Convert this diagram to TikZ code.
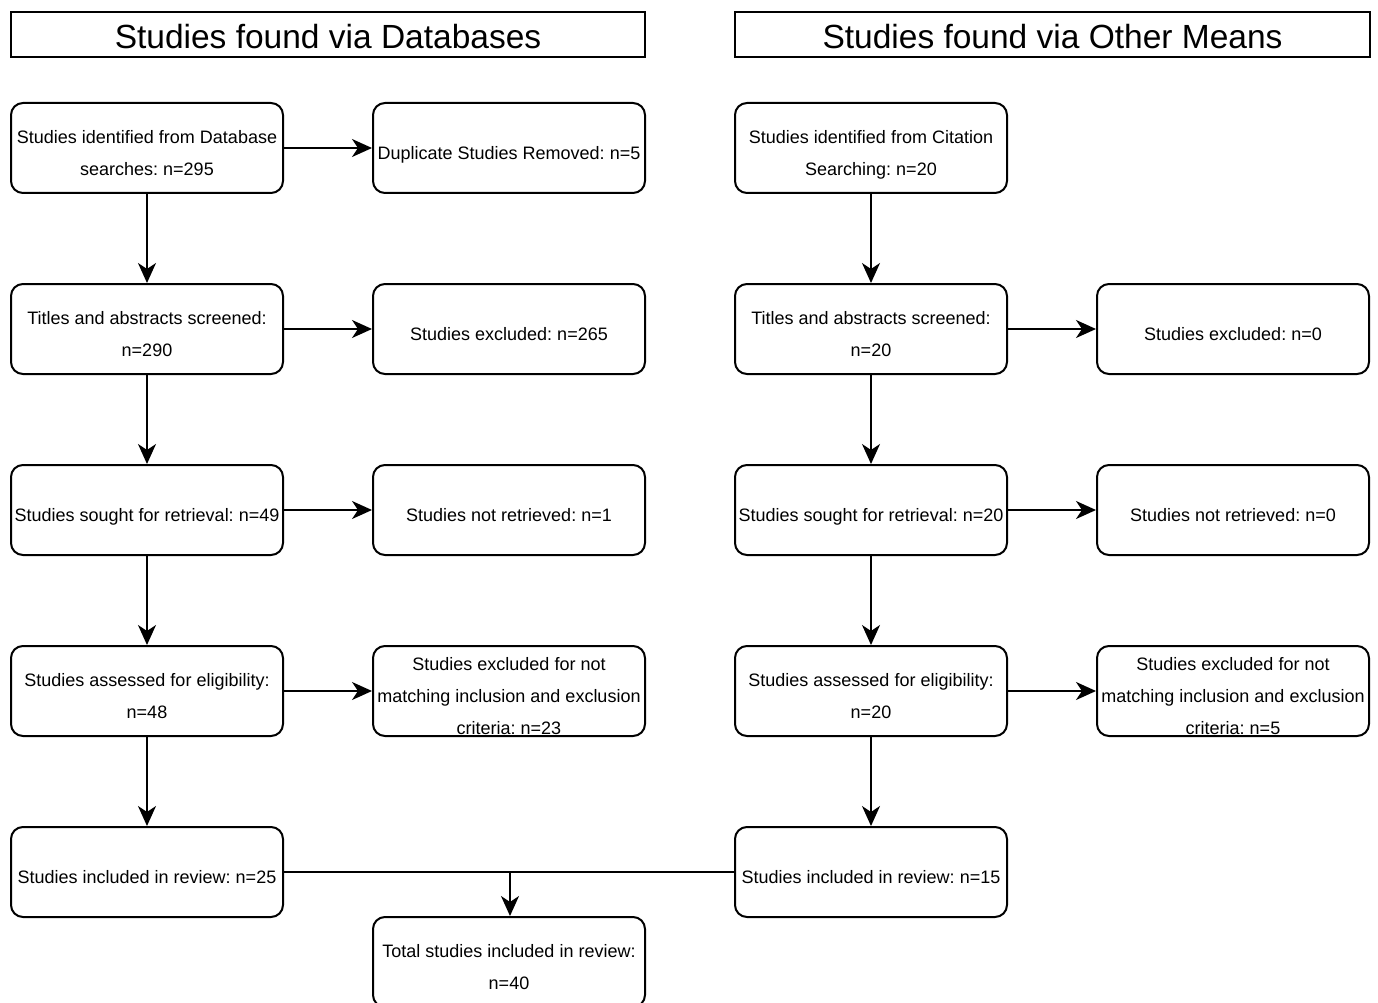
\documentclass[tikz,border=0pt]{standalone}
\usepackage{fontspec}
\setmainfont{Liberation Sans}
\usetikzlibrary{arrows.meta}
\frenchspacing
\newcommand\ls{\rule[-4pt]{0pt}{18pt}}
\tikzset{
  box/.style={draw, line width=2pt, rounded corners=12pt, minimum width=272pt, minimum height=90pt, inner sep=0pt},
  hbox/.style={draw, line width=1.8pt, inner sep=0pt},
  txt/.style={font=\fontsize{18}{32}\selectfont, align=center, inner sep=0pt},
  htxt/.style={font=\fontsize{33.5}{40}\selectfont, inner sep=0pt, text height=24pt, text depth=0pt},
  arr/.style={line width=1.8pt, -{Stealth[length=20pt,width=18pt,inset=6pt]}},
  ln/.style={line width=1.8pt}
}
\begin{document}
\begin{tikzpicture}[x=1pt,y=-1pt]
\useasboundingbox (0,0) rectangle (1378,1003);
\clip (0,0) rectangle (1378,1003);
% headers
\node[hbox, minimum width=634pt, minimum height=45pt] (h1) at (328,34.5) {};
\node[htxt] (h1t) at (328,36.5) {Studies found via Databases};
\node[hbox, minimum width=635pt, minimum height=45pt] (h2) at (1052.5,34.5) {};
\node[htxt] (h2t) at (1052.5,36.5) {Studies found via Other Means};
% column 1
\node[box] (a1) at (147,148) {};
\node[txt] (a1t) at (147,154.5) {\ls Studies identified from Database\\\ls searches: n=295};
\node[box] (a2) at (147,329) {};
\node[txt] (a2t) at (147,335.5) {\ls Titles and abstracts screened:\\\ls n=290};
\node[box] (a3) at (147,510) {};
\node[txt] (a3t) at (147,516.5) {\ls Studies sought for retrieval: n=49};
\node[box] (a4) at (147,691) {};
\node[txt] (a4t) at (147,697.5) {\ls Studies assessed for eligibility:\\\ls n=48};
\node[box] (a5) at (147,872) {};
\node[txt] (a5t) at (147,878.5) {\ls Studies included in review: n=25};
% column 2
\node[box] (b1) at (509,148) {};
\node[txt] (b1t) at (509,154.5) {\ls Duplicate Studies Removed: n=5};
\node[box] (b2) at (509,329) {};
\node[txt] (b2t) at (509,335.5) {\ls Studies excluded: n=265};
\node[box] (b3) at (509,510) {};
\node[txt] (b3t) at (509,516.5) {\ls Studies not retrieved: n=1};
\node[box] (b4) at (509,691) {};
\node[txt] (b4t) at (509,697.5) {\ls Studies excluded for not\\\ls matching inclusion and exclusion\\\ls criteria: n=23};
\node[box] (tot) at (509,962) {};
\node[txt] (tott) at (509,968.5) {\ls Total studies included in review:\\\ls n=40};
% column 3
\node[box] (c1) at (871,148) {};
\node[txt] (c1t) at (871,154.5) {\ls Studies identified from Citation\\\ls Searching: n=20};
\node[box] (c2) at (871,329) {};
\node[txt] (c2t) at (871,335.5) {\ls Titles and abstracts screened:\\\ls n=20};
\node[box] (c3) at (871,510) {};
\node[txt] (c3t) at (871,516.5) {\ls Studies sought for retrieval: n=20};
\node[box] (c4) at (871,691) {};
\node[txt] (c4t) at (871,697.5) {\ls Studies assessed for eligibility:\\\ls n=20};
\node[box] (c5) at (871,872) {};
\node[txt] (c5t) at (871,878.5) {\ls Studies included in review: n=15};
% column 4
\node[box] (d2) at (1233,329) {};
\node[txt] (d2t) at (1233,335.5) {\ls Studies excluded: n=0};
\node[box] (d3) at (1233,510) {};
\node[txt] (d3t) at (1233,516.5) {\ls Studies not retrieved: n=0};
\node[box] (d4) at (1233,691) {};
\node[txt] (d4t) at (1233,697.5) {\ls Studies excluded for not\\\ls matching inclusion and exclusion\\\ls criteria: n=5};
% connectors column 1
\draw[arr] (a1.south) -- (a2.north);
\draw[arr] (a2.south) -- (a3.north);
\draw[arr] (a3.south) -- (a4.north);
\draw[arr] (a4.south) -- (a5.north);
\draw[arr] (a1.east) -- (b1.west);
\draw[arr] (a2.east) -- (b2.west);
\draw[arr] (a3.east) -- (b3.west);
\draw[arr] (a4.east) -- (b4.west);
% connectors column 3
\draw[arr] (c1.south) -- (c2.north);
\draw[arr] (c2.south) -- (c3.north);
\draw[arr] (c3.south) -- (c4.north);
\draw[arr] (c4.south) -- (c5.north);
\draw[arr] (c2.east) -- (d2.west);
\draw[arr] (c3.east) -- (d3.west);
\draw[arr] (c4.east) -- (d4.west);
% merge
\coordinate (m) at (510,872);
\draw[ln] (a5.east) -- (c5.west);
\draw[arr] (m) -- (m |- tot.north);
\end{tikzpicture}
\end{document}
